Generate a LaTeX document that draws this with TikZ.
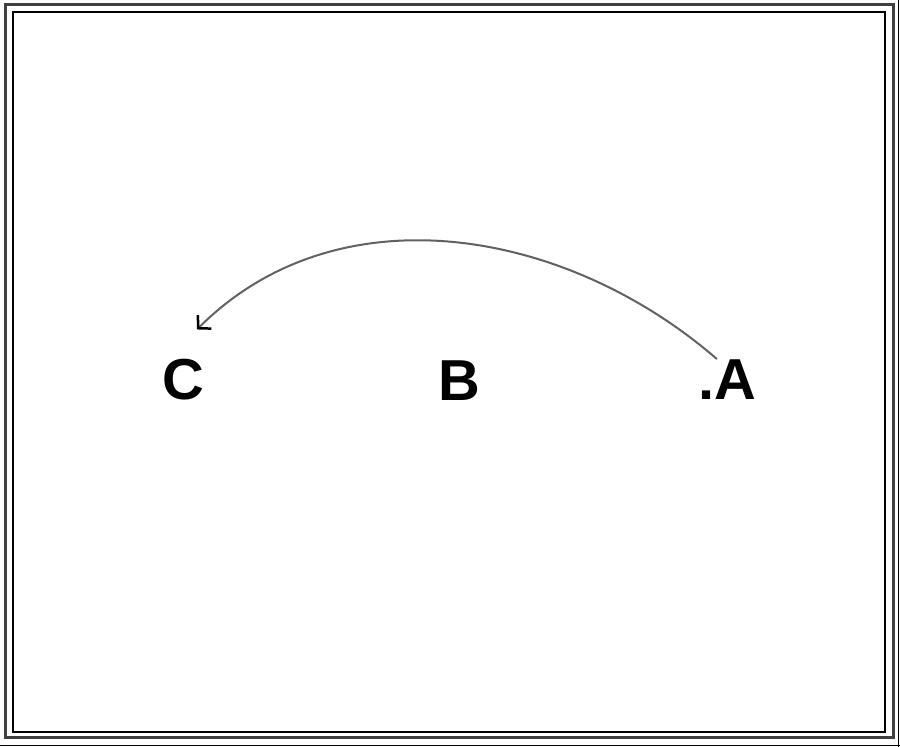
\documentclass[tikz,border=0pt]{standalone}
\usepackage{fontspec}
\setmainfont{Liberation Sans}
\usetikzlibrary{calc, positioning, arrows.meta}

\begin{document}
\begin{tikzpicture}[
    x=1bp, y=-1bp,
    letternode/.style={font=\fontsize{58}{60}\selectfont\bfseries, inner sep=0pt, anchor=base},
    outerframe/.style={draw=black!75, line width=3bp},
    innerframe/.style={draw=black, line width=1.3bp},
    movearrow/.style={draw=black!62, line width=2bp, -{Straight Barb[length=9bp, width=19bp, line width=2.5bp, black]}},
    ]
    \useasboundingbox (0,0) rectangle (900,747);

    %Frame
    \draw[outerframe] (5,5) rectangle (893,737);
    \draw[innerframe] (13,12) rectangle (885,732);
    \draw[black, line width=1bp] (898,0) -- (898,747);
    \draw[black, line width=1bp] (0,745) -- (900,745);

    %Nodes
    \node[letternode]      (letterC)                          at (183,399)    {C};
    \node[letternode]      (letterB)                          at (459,400)    {B};
    \node[letternode, anchor=base east]      (letterA)        at (756,399)    {.A};

    %Lines
    \draw[movearrow] ([xshift=-10bp]letterA.north)
    .. controls +(-151,-131) and +(141,-141) .. ([xshift=14bp, yshift=29bp]letterC.north);
  \end{tikzpicture}
\end{document}
